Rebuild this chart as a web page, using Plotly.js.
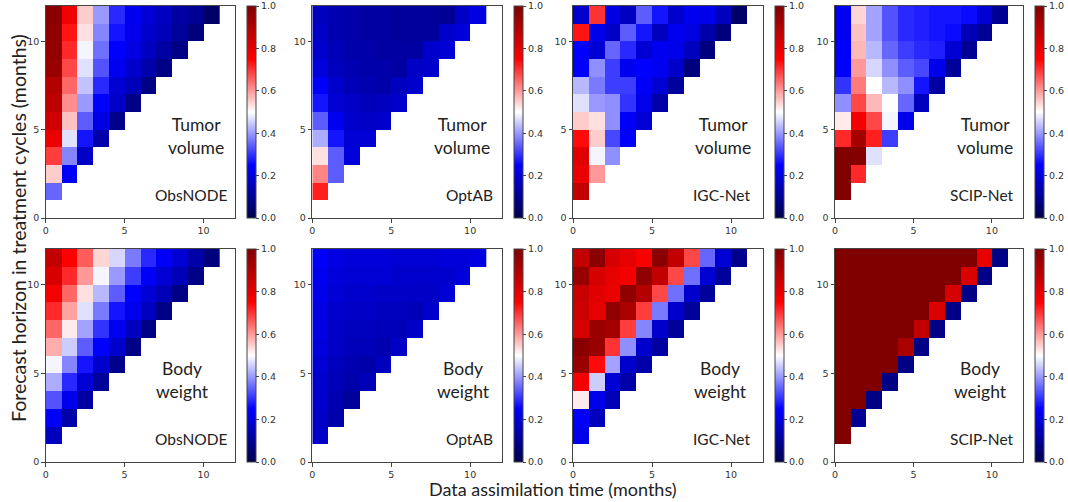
<!DOCTYPE html>
<html>
<head>
<meta charset="utf-8">
<script src="https://cdn.plot.ly/plotly-3.0.1.min.js"></script>
<style>html,body{margin:0;padding:0;background:#fff;}#chart{width:1068px;height:502px;}</style>
</head>
<body>
<div id="chart"></div>
<script>
// Rows listed from top (forecast horizon 11) down to horizon 1; columns = assimilation time 0..
const obsnodeTumor = [
  [0.98,0.78,0.55,0.40,0.29,0.23,0.19,0.16,0.12,0.10,0.04],
  [0.97,0.73,0.53,0.38,0.27,0.22,0.18,0.15,0.11,0.07],
  [0.96,0.71,0.49,0.36,0.25,0.21,0.16,0.12,0.08],
  [0.95,0.68,0.47,0.33,0.23,0.18,0.13,0.08],
  [0.90,0.65,0.44,0.29,0.19,0.15,0.08],
  [0.88,0.61,0.40,0.25,0.17,0.08],
  [0.84,0.56,0.34,0.21,0.09],
  [0.79,0.47,0.27,0.13],
  [0.69,0.38,0.17],
  [0.55,0.24],
  [0.35]
];
const optabTumor = [
  [0.16,0.14,0.13,0.12,0.12,0.11,0.11,0.11,0.10,0.17,0.21],
  [0.17,0.14,0.13,0.12,0.12,0.11,0.11,0.11,0.18,0.20],
  [0.18,0.15,0.13,0.13,0.12,0.12,0.12,0.18,0.19],
  [0.20,0.16,0.14,0.13,0.13,0.12,0.17,0.18],
  [0.24,0.18,0.15,0.14,0.13,0.16,0.18],
  [0.27,0.19,0.17,0.15,0.16,0.18],
  [0.34,0.23,0.18,0.17,0.18],
  [0.42,0.27,0.19,0.19],
  [0.53,0.34,0.20],
  [0.62,0.34],
  [0.72]
];
const igcTumor = [
  [0.18,0.70,0.21,0.16,0.34,0.27,0.18,0.23,0.22,0.16,0.04],
  [0.73,0.22,0.17,0.34,0.27,0.16,0.23,0.21,0.13,0.07],
  [0.25,0.19,0.35,0.29,0.19,0.23,0.22,0.16,0.07],
  [0.25,0.39,0.31,0.23,0.25,0.23,0.18,0.07],
  [0.43,0.37,0.31,0.31,0.24,0.19,0.11],
  [0.47,0.40,0.39,0.30,0.22,0.13],
  [0.55,0.53,0.39,0.24,0.19],
  [0.74,0.55,0.32,0.25],
  [0.81,0.49,0.39],
  [0.79,0.60],
  [0.87]
];
const scipTumor = [
  [0.23,0.54,0.41,0.33,0.29,0.28,0.27,0.27,0.26,0.19,0.10],
  [0.23,0.56,0.41,0.33,0.29,0.28,0.27,0.26,0.15,0.10],
  [0.24,0.57,0.43,0.35,0.31,0.29,0.28,0.19,0.10],
  [0.25,0.60,0.46,0.39,0.34,0.32,0.22,0.11],
  [0.30,0.63,0.50,0.43,0.39,0.27,0.12],
  [0.39,0.68,0.57,0.50,0.35,0.16],
  [0.52,0.77,0.68,0.49,0.22],
  [0.71,0.93,0.72,0.31],
  [1.00,0.99,0.47],
  [1.00,0.71],
  [1.00]
];
const obsnodeWeight = [
  [0.87,0.75,0.66,0.54,0.46,0.37,0.29,0.24,0.19,0.13,0.07],
  [0.83,0.71,0.60,0.49,0.40,0.31,0.24,0.19,0.15,0.08],
  [0.77,0.65,0.53,0.43,0.34,0.25,0.19,0.15,0.08],
  [0.71,0.59,0.47,0.37,0.27,0.22,0.16,0.08],
  [0.65,0.52,0.41,0.30,0.23,0.16,0.08],
  [0.58,0.45,0.34,0.25,0.18,0.08],
  [0.49,0.38,0.27,0.18,0.09],
  [0.42,0.29,0.19,0.11],
  [0.33,0.22,0.12],
  [0.24,0.13],
  [0.16]
];
const optabWeight = [
  [0.24,0.21,0.20,0.20,0.20,0.19,0.19,0.19,0.20,0.20,0.21],
  [0.23,0.20,0.19,0.19,0.19,0.18,0.18,0.18,0.18,0.20],
  [0.22,0.19,0.18,0.18,0.17,0.17,0.17,0.17,0.19],
  [0.21,0.18,0.17,0.17,0.16,0.16,0.15,0.18],
  [0.21,0.17,0.16,0.16,0.15,0.15,0.17],
  [0.20,0.17,0.15,0.15,0.14,0.17],
  [0.19,0.16,0.14,0.13,0.16],
  [0.18,0.15,0.13,0.15],
  [0.18,0.14,0.11],
  [0.17,0.13],
  [0.17]
];
const igcWeight = [
  [0.87,0.98,0.83,0.80,0.76,0.98,0.87,0.68,0.35,0.19,0.09],
  [0.95,0.83,0.80,0.77,0.97,0.87,0.68,0.36,0.19,0.11],
  [0.86,0.81,0.79,0.97,0.90,0.68,0.36,0.18,0.11],
  [0.85,0.80,0.97,0.92,0.69,0.37,0.18,0.11],
  [0.83,0.95,0.93,0.69,0.38,0.18,0.11],
  [0.98,0.95,0.70,0.39,0.18,0.12],
  [0.95,0.74,0.41,0.18,0.13],
  [0.77,0.45,0.19,0.13],
  [0.52,0.22,0.15],
  [0.24,0.16],
  [0.22]
];
const scipWeight = [
  [1.00,1.00,1.00,1.00,1.00,1.00,1.00,1.00,1.00,0.80,0.08],
  [1.00,1.00,1.00,1.00,1.00,1.00,1.00,1.00,0.82,0.08],
  [1.00,1.00,1.00,1.00,1.00,1.00,1.00,0.83,0.08],
  [1.00,1.00,1.00,1.00,1.00,1.00,0.82,0.08],
  [1.00,1.00,1.00,1.00,1.00,0.87,0.08],
  [1.00,1.00,1.00,1.00,0.92,0.08],
  [1.00,1.00,1.00,1.00,0.08],
  [1.00,1.00,1.00,0.08],
  [1.00,1.00,0.08],
  [1.00,0.10],
  [1.00]
];

const panelData = [obsnodeTumor, optabTumor, igcTumor, scipTumor, obsnodeWeight, optabWeight, igcWeight, scipWeight];
const methodNames = ["ObsNODE", "OptAB", "IGC-Net", "SCIP-Net", "ObsNODE", "OptAB", "IGC-Net", "SCIP-Net"];
const targetLabels = ["Tumor<br>volume","Tumor<br>volume","Tumor<br>volume","Tumor<br>volume",
                      "Body<br>weight","Body<br>weight","Body<br>weight","Body<br>weight"];
const assimTimes = [0.5,1.5,2.5,3.5,4.5,5.5,6.5,7.5,8.5,9.5,10.5];
const horizons = [0.5,1.5,2.5,3.5,4.5,5.5,6.5,7.5,8.5,9.5,10.5,11.5];
const axisTicks = [0, 5, 10];
const cbTicks = [0, 0.2, 0.4, 0.6, 0.8, 1.0];

const seismic = [[0,'rgb(0,0,77)'],[0.25,'rgb(0,0,255)'],[0.5,'rgb(255,255,255)'],[0.75,'rgb(255,0,0)'],[1,'rgb(128,0,0)']];

const W = 1068, H = 502;
const xPix = [[45.7,235],[312.3,501.7],[573,762.7],[835,1023.3]];
const cbPix = [246.7, 513.5, 775, 1035];
const yPix = [[6,218],[249,462]];
// horizontal centre (data units) of the two-line target label, per panel
const labelX = [9.55,9.5,9.5,9.55,8.7,9.6,9.3,9.3];
const methodX = [11.6,11.55,11.3,11.55,11.6,11.55,11.3,11.55];

function toZ(rows){
  const z = [];
  for (let r = 0; r < 12; r++) {
    const row = [];
    for (let c = 0; c < 11; c++) {
      if (r === 0) { row.push(null); continue; }
      const src = rows[11 - r];
      row.push(c < src.length ? src[c] : null);
    }
    z.push(row);
  }
  return z;
}

const traces = [];
const layout = {
  width: W, height: H,
  margin: {l:0, r:0, t:0, b:0},
  paper_bgcolor: '#fff', plot_bgcolor: '#fff',
  showlegend: false,
  annotations: [],
  font: {family: 'DejaVu Sans', size: 10, color: '#222'}
};
const labelFont = 'Lato, Noto Sans, sans-serif';

for (let p = 0; p < 8; p++) {
  const col = p % 4, row = Math.floor(p / 4);
  const idx = p === 0 ? '' : String(p + 1);
  const xd = [xPix[col][0] / W, xPix[col][1] / W];
  const yd = [1 - yPix[row][1] / H, 1 - yPix[row][0] / H];
  traces.push({
    type: 'heatmap',
    x: assimTimes, y: horizons, z: toZ(panelData[p]),
    xaxis: 'x' + idx, yaxis: 'y' + idx,
    colorscale: seismic, zmin: 0, zmax: 1,
    hoverongaps: false,
    showscale: true,
    colorbar: {
      x: cbPix[col] / W, xanchor: 'left', xref: 'paper',
      y: (yd[0] + yd[1]) / 2, yanchor: 'middle', len: yd[1] - yd[0], lenmode: 'fraction',
      thickness: 9, thicknessmode: 'pixels',
      xpad: 0, ypad: 0, outlinewidth: 1, outlinecolor: '#444', borderwidth: 0,
      tickvals: cbTicks, ticktext: cbTicks.map(v => v.toFixed(1)),
      ticks: 'outside', ticklen: 3, tickcolor: '#444',
      tickfont: {family: 'DejaVu Sans', size: 9.5, color: '#333'}
    }
  });
  const axCommon = {
    range: [0, 12], tickvals: axisTicks, ticktext: axisTicks.map(String),
    showgrid: false, zeroline: false, showline: true, mirror: true,
    linecolor: '#444', linewidth: 1, ticks: 'outside', ticklen: 3.5, tickcolor: '#444',
    tickfont: {family: 'DejaVu Sans', size: 9.5, color: '#333'}, fixedrange: true
  };
  layout['xaxis' + idx] = Object.assign({}, axCommon, {domain: xd, anchor: 'y' + idx});
  layout['yaxis' + idx] = Object.assign({}, axCommon, {domain: yd, anchor: 'x' + idx});
  const xr = 'x' + idx, yr = 'y' + idx;
  layout.annotations.push({xref: xr, yref: yr, x: labelX[p], y: 4.62, text: targetLabels[p],
    showarrow: false, xanchor: 'center', yanchor: 'middle', align: 'center',
    font: {family: labelFont, size: 17.5, color: '#222'}});
  layout.annotations.push({xref: xr, yref: yr, x: methodX[p], y: 1.31, text: methodNames[p],
    showarrow: false, xanchor: 'right', yanchor: 'middle', font: {family: labelFont, size: 15.5, color: '#222'}});
}

layout.annotations.push({xref: 'paper', yref: 'paper', x: 18 / W, y: 1 - 228 / H,
  text: 'Forecast horizon in treatment cycles (months)', textangle: -90, showarrow: false,
  xanchor: 'center', yanchor: 'middle', font: {family: labelFont, size: 19.5, color: '#222'}});
layout.annotations.push({xref: 'paper', yref: 'paper', x: 553 / W, y: 1 - 489 / H,
  text: 'Data assimilation time (months)', showarrow: false,
  xanchor: 'center', yanchor: 'middle', font: {family: labelFont, size: 18, color: '#222'}});

Plotly.newPlot('chart', traces, layout, {displayModeBar: false, staticPlot: true});
</script>
</body>
</html>
